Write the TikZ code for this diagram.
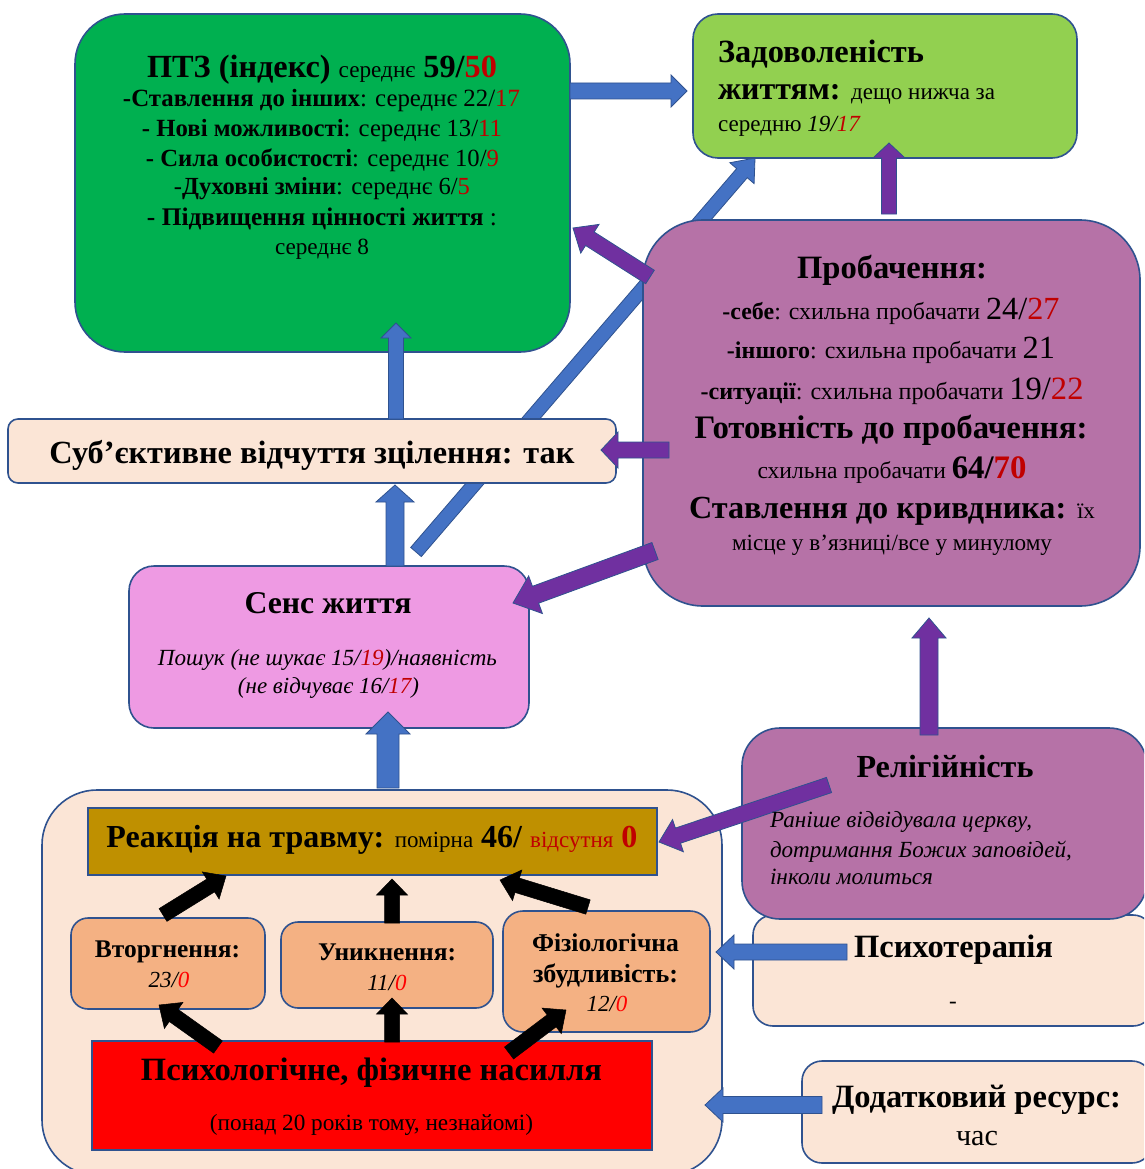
\documentclass[tikz,border=0pt]{standalone}
\usepackage{fontspec}
\setmainfont{Liberation Serif}
\usepackage{graphicx}
\usetikzlibrary{calc}
\definecolor{bord}{HTML}{2F528F}
\definecolor{ablue}{HTML}{4472C4}
\definecolor{apurp}{HTML}{7030A0}
\definecolor{gbox}{HTML}{00B050}
\definecolor{lgbox}{HTML}{92D050}
\definecolor{pbox}{HTML}{B672A7}
\definecolor{peach}{HTML}{FBE5D6}
\definecolor{pink}{HTML}{EE9AE3}
\definecolor{gold}{HTML}{BF9000}
\definecolor{orng}{HTML}{F4B183}
\definecolor{dred}{HTML}{C00000}
\definecolor{bred}{HTML}{FF0000}
\newcommand\sz[1]{\fontsize{#1}{#1}\selectfont}
\newcommand\rd[1]{\textcolor{dred}{#1}}
\newcommand\brd[1]{\textcolor{bred}{#1}}
\newcommand\W[2]{\resizebox{#1pt}{!}{#2}}
\newcommand\barrow[6]{%
  \path ($(#3)!#6pt!(#2)$) coordinate (bh);
  \filldraw[#1] ($(#2)!#4pt!90:(#3)$) -- ($(bh)!#4pt!90:(#3)$) -- ($(bh)!#5pt!90:(#3)$) -- (#3)
    -- ($(bh)!#5pt!-90:(#3)$) -- ($(bh)!#4pt!-90:(#3)$) -- ($(#2)!#4pt!-90:(#3)$) -- cycle;}
\tikzset{
  box/.style={draw=bord, line width=1.6pt, inner sep=0pt, outer sep=0pt, anchor=north west},
  txt/.style={inner sep=0pt, outer sep=0pt, anchor=base},
  txtl/.style={inner sep=0pt, outer sep=0pt, anchor=base west},
  bl/.style={fill=ablue, draw=bord, line width=0.8pt},
  pu/.style={fill=apurp, draw=bord, line width=0.8pt},
  bk/.style={fill=black, draw=black, line width=0.5pt}
}
\begin{document}
\begin{tikzpicture}[x=1pt,y=-1pt]
\useasboundingbox (0,0) rectangle (1144,1169);
\clip (0,0) rectangle (1144,1169);
\fill[white] (0,0) rectangle (1144,1169);

% arrow end points
\coordinate (sensT) at (416,552);
\coordinate (zadB) at (755,158);
\coordinate (ptzR) at (570,91);
\coordinate (zadL) at (687,91);
\coordinate (subT) at (396,419);
\coordinate (ptzB) at (396,323);
\coordinate (sensT2) at (395,566);
\coordinate (subB) at (395,485);
\coordinate (reakT) at (388,788);
\coordinate (sensB) at (388,712);
\coordinate (psyL) at (847,952);
\coordinate (contR1) at (716,952);
\coordinate (dodL) at (822,1105);
\coordinate (contR2) at (705,1105);
\coordinate (probL1) at (650,277);
\coordinate (ptzBR) at (573,228);
\coordinate (probL2) at (669,450);
\coordinate (subR) at (601,450);
\coordinate (probL3) at (655,551);
\coordinate (sensR) at (513,603);
\coordinate (probT) at (889,214);
\coordinate (zadB2) at (889,143);
\coordinate (relT) at (929,735);
\coordinate (probB) at (929,618);
\coordinate (relL) at (829,785);
\coordinate (reakR) at (659,842);
\coordinate (vtorT) at (163,915);
\coordinate (reakB1) at (226,876);
\coordinate (unykT) at (392,923);
\coordinate (reakB2) at (392,879);
\coordinate (fizT) at (588,907);
\coordinate (reakB3) at (500,880);
\coordinate (redT1) at (218,1047);
\coordinate (vtorB) at (159,1005);
\coordinate (redT2) at (392,1042);
\coordinate (unykB) at (392,998);
\coordinate (redT3) at (509,1053);
\coordinate (fizB) at (566,1010);

% long arrow behind boxes
\barrow{bl}{sensT}{zadB}{7}{16}{20}

% boxes
\node[box, fill=gbox, rounded corners=50pt, minimum width=495pt, minimum height=338pt] (ptz) at (75,14) {};
\node[box, fill=lgbox, rounded corners=25pt, minimum width=384pt, minimum height=144pt] (zad) at (693,14) {};
\node[box, fill=pbox, rounded corners=60pt, minimum width=497pt, minimum height=386pt] (prob) at (643,220) {};
\node[box, fill=peach, rounded corners=10pt, minimum width=608pt, minimum height=64pt] (sub) at (8,419) {};
\node[box, fill=pink, rounded corners=25pt, minimum width=400pt, minimum height=162pt] (sens) at (129,566) {};
\node[box, fill=peach, rounded corners=55pt, minimum width=680pt, minimum height=385pt] (cont) at (42,790) {};
\node[box, fill=gold, minimum width=569pt, minimum height=67pt] (reak) at (88,808) {};
\node[box, fill=orng, rounded corners=17pt, minimum width=194pt, minimum height=91pt] (vtor) at (71,918) {};
\node[box, fill=orng, rounded corners=17pt, minimum width=212pt, minimum height=86pt] (unyk) at (281,922) {};
\node[box, fill=orng, rounded corners=20pt, minimum width=207pt, minimum height=121pt] (fiz) at (503,911) {};
\node[box, fill=bred, minimum width=560pt, minimum height=109pt] (red) at (92,1041) {};
\node[box, fill=peach, rounded corners=20pt, minimum width=400pt, minimum height=111pt] (psy) at (753,915) {};
\node[box, fill=pbox, rounded corners=38pt, minimum width=405pt, minimum height=191pt] (rel) at (742,728) {};
\node[box, fill=peach, rounded corners=20pt, minimum width=350pt, minimum height=102pt] (dod) at (802,1061) {};

% arrows
\barrow{bl}{ptzR}{zadL}{8}{16}{16}
\barrow{bl}{subT}{ptzB}{7.5}{15}{15}
\barrow{bl}{sensT2}{subB}{9}{19}{17}
\barrow{bl}{reakT}{sensB}{11}{22}{22}
\barrow{bl}{psyL}{contR1}{8}{17}{18}
\barrow{bl}{dodL}{contR2}{8.5}{17}{18}
\barrow{pu}{probL1}{ptzBR}{8}{17}{20}
\barrow{pu}{probL2}{subR}{8}{18}{17}
\barrow{pu}{probL3}{sensR}{9}{20}{24}
\barrow{pu}{probT}{zadB2}{7.5}{16}{15}
\barrow{pu}{relT}{probB}{9}{17}{20}
\barrow{pu}{relL}{reakR}{8}{17}{20}
\barrow{bk}{vtorT}{reakB1}{7.5}{16}{18}
\barrow{bk}{unykT}{reakB2}{7.5}{15.5}{16}
\barrow{bk}{fizT}{reakB3}{7.5}{16}{18}
\barrow{bk}{redT1}{vtorB}{7.5}{16}{18}
\barrow{bk}{redT2}{unykB}{7.5}{15.5}{16}
\barrow{bk}{redT3}{fizB}{7.5}{16}{18}

% PTZ text
\node[txt] (p1) at (322,78) {\W{350}{\sz{32}\bfseries ПТЗ (індекс) {\sz{23}\mdseries середнє} 59/\rd{50}}};
\node[txt] (p2) at (321.5,107) {\W{397}{\sz{23}{\bfseries -Ставлення до інших}: середнє 22/\rd{17}}};
\node[txt] (p3) at (322,137) {\W{360}{\sz{23}{\bfseries - Нові можливості}: середнє 13/\rd{11}}};
\node[txt] (p4) at (322.5,167) {\W{353}{\sz{23}{\bfseries - Сила особистості}: середнє 10/\rd{9}}};
\node[txt] (p5) at (322,195) {\W{296}{\sz{23}-{\bfseries Духовні зміни}: середнє 6/\rd{5}}};
\node[txt] (p6) at (322,225) {\W{350}{\sz{23}{\bfseries - Підвищення цінності життя} :}};
\node[txt] (p7) at (322,254) {\W{94}{\sz{23}середнє 8}};

% Zadovolenist
\node[txtl] (z1) at (718,63) {\W{206}{\sz{32}\bfseries Задоволеність}};
\node[txtl] (z2) at (718,100) {\W{277}{\sz{32}{\bfseries життям:} {\sz{23}дещо нижча за}}};
\node[txtl] (z3) at (718,132) {\W{142}{\sz{23}середню \textit{19/\rd{17}}}};

% Probachennya
\node[txt] (q1) at (892,278) {\W{190}{\sz{32}\bfseries Пробачення:}};
\node[txt] (q2) at (891,319) {\W{337}{\sz{23}{\bfseries -себе}: схильна пробачати {\sz{31}24/\rd{27}}}};
\node[txt] (q3) at (891,358) {\W{328}{\sz{23}{\bfseries -іншого}: схильна пробачати {\sz{31}21}}};
\node[txt] (q4) at (892,399) {\W{383}{\sz{23}{\bfseries -ситуації}: схильна пробачати {\sz{31}19/\rd{22}}}};
\node[txt] (q5) at (891,438) {\W{393}{\sz{32}\bfseries Готовність до пробачення:}};
\node[txt] (q6) at (892,478) {\W{269}{\sz{23}схильна пробачати {\sz{32}\bfseries 64/\rd{70}}}};
\node[txt] (q7) at (892,518) {\W{406}{\sz{32}{\bfseries Ставлення до кривдника:} {\sz{23}їх}}};
\node[txt] (q8) at (892,550) {\W{320}{\sz{23}місце у в’язниці/все у минулому}};

% Subjective
\node[txt] (s0) at (312,463) {\W{525}{\sz{32}\bfseries Суб’єктивне відчуття зцілення: так}};

% Sens
\node[txt] (s1) at (328,613) {\W{167}{\sz{32}\bfseries Сенс життя}};
\node[txt] (s2) at (327.5,665) {\W{339}{\sz{23}\itshape Пошук (не шукає 15/\rd{19})/наявність}};
\node[txt] (s3) at (328.5,693) {\W{181}{\sz{23}\itshape (не відчуває 16/\rd{17})}};

% Reaction
\node[txt] (r0) at (372,847) {\W{531}{\sz{32}{\bfseries Реакція на травму:} {\sz{23}помірна} {\bfseries 46/} \rd{{\sz{23}відсутня} {\bfseries 0}}}};

% small boxes
\node[txt] (v1) at (167.5,957) {\W{145}{\sz{23}\bfseries Вторгнення:}};
\node[txt] (v2) at (169,987) {\sz{23}\itshape 23/\brd{0}};
\node[txt] (u1) at (387,960) {\W{138}{\sz{23}\bfseries Уникнення:}};
\node[txt] (u2) at (387,990) {\sz{23}\itshape 11/\brd{0}};
\node[txt] (f1) at (605.5,951) {\W{147}{\sz{23}\bfseries Фізіологічна}};
\node[txt] (f2) at (605.5,982) {\W{145}{\sz{23}\bfseries збудливість:}};
\node[txt] (f3) at (607,1011) {\sz{23}\itshape 12/\brd{0}};

% red
\node[txt] (h1) at (371.5,1080) {\W{461}{\sz{32}\bfseries Психологічне, фізичне насилля}};
\node[txt] (h2) at (371.5,1130) {\W{323}{\sz{23}(понад 20 років тому, незнайомі)}};

% religion
\node[txt] (g1) at (945,777) {\W{177}{\sz{32}\bfseries Релігійність}};
\node[txtl] (g2) at (770,827) {\W{262}{\sz{23}\itshape Раніше відвідувала церкву,}};
\node[txtl] (g3) at (770,857) {\W{302}{\sz{23}\itshape дотримання Божих заповідей,}};
\node[txtl] (g4) at (770,884) {\W{163}{\sz{23}\itshape інколи молиться}};

% psychotherapy
\node[txt] (t1) at (953.5,957) {\W{199}{\sz{32}\bfseries Психотерапія}};
\node[txt] (t2) at (953,1008) {\sz{23}-};

% additional
\node[txt] (d1) at (976.5,1107) {\W{289}{\sz{32}\bfseries Додатковий ресурс:}};
\node[txt] (d2) at (977,1145) {\W{42}{\sz{30}час}};
\end{tikzpicture}
\end{document}
